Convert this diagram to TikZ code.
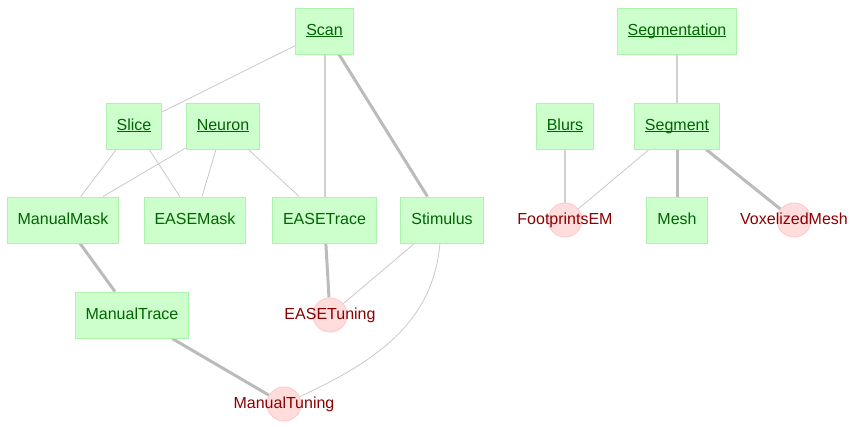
\documentclass[tikz,border=0pt]{standalone}
\usepackage{fontspec}
\setmainfont{Liberation Sans}
\usetikzlibrary{arrows, backgrounds}

\definecolor{manualfill}{HTML}{CCFFCC}
\definecolor{manualline}{HTML}{AAF5AA}
\definecolor{manualtext}{HTML}{006400}
\definecolor{computedfill}{HTML}{FFDDDD}
\definecolor{computedline}{HTML}{FFCCCC}
\definecolor{computedtext}{HTML}{8B0000}
\definecolor{linklight}{HTML}{C8C8C8}
\definecolor{linkmid}{HTML}{D0D0D0}
\definecolor{linkdark}{HTML}{BBBBBB}

\newcommand{\keyname}[1]{\underline{\smash{#1}}}

\begin{document}
\begin{tikzpicture}[x=1pt, y=-1pt,
    manualtbl/.style={draw=manualline, fill=manualfill, text=manualtext,
      line width=1pt, inner xsep=10.5pt, minimum height=46pt,
      text height=11.5pt, text depth=3.5pt,
      font=\fontsize{16}{19}\selectfont},
    computedtbl/.style={circle, draw=computedline, fill=computedfill,
      line width=1pt, minimum size=34pt, inner sep=0pt},
    computedlbl/.style={text=computedtext, text height=11.5pt, text depth=3.5pt,
      font=\fontsize{16}{19}\selectfont},
    thinlink/.style={draw=linklight, line width=0.8pt},
    midlink/.style={draw=linkmid, line width=2pt},
    thicklink/.style={draw=linkdark, line width=3pt}]
    \useasboundingbox (0,0) rectangle (860,426);

    %define the tables
    \node[manualtbl] (scan)         at (324.5,31) {\keyname{Scan}};
    \node[manualtbl] (segmentation) at (677,31)   {\keyname{Segmentation}};
    \node[manualtbl] (slice)        at (134,126)  {\keyname{Slice}};
    \node[manualtbl] (neuron)       at (223,126)  {\keyname{Neuron}};
    \node[manualtbl] (blurs)        at (565,126)  {\keyname{Blurs}};
    \node[manualtbl] (segment)      at (677,126)  {\keyname{Segment}};
    \node[manualtbl] (manualmask)   at (63,220)   {ManualMask};
    \node[manualtbl] (easemask)     at (195,220)  {EASEMask};
    \node[manualtbl] (easetrace)    at (324.5,220) {EASETrace};
    \node[manualtbl] (stimulus)     at (442,220)  {Stimulus};
    \node[manualtbl] (mesh)         at (677,220)  {Mesh};
    \node[manualtbl] (manualtrace)  at (132,315)  {ManualTrace};
    \node[computedtbl, label={[computedlbl]center:FootprintsEM}]  (footprintsem)  at (565,220) {};
    \node[computedtbl, label={[computedlbl]center:VoxelizedMesh}] (voxelizedmesh) at (794,220) {};
    \node[computedtbl, label={[computedlbl]center:EASETuning}]    (easetuning)    at (330,315) {};
    \node[computedtbl, label={[computedlbl]center:ManualTuning}]  (manualtuning)  at (284,404) {};

    %define the links
    \begin{pgfonlayer}{background}
    \path (scan)         edge[thinlink]  (slice)
                         edge[midlink]   (easetrace)
                         edge[thicklink] (stimulus)
          (slice)        edge[thinlink]  (manualmask)
                         edge[thinlink]  (easemask)
          (neuron)       edge[thinlink]  (manualmask)
                         edge[thinlink]  (easemask)
                         edge[thinlink]  (easetrace)
          (manualmask)   edge[thicklink] (manualtrace)
          (manualtrace)  edge[thicklink] (manualtuning)
          (easetrace)    edge[thicklink] (easetuning)
          (stimulus)     edge[thinlink]  (easetuning)
                         edge[thinlink, out=-95, in=25] (manualtuning)
          (segmentation) edge[midlink]   (segment)
          (blurs)        edge[midlink]   (footprintsem)
          (segment)      edge[thinlink]  (footprintsem)
                         edge[thicklink] (mesh)
                         edge[thicklink] (voxelizedmesh);
    \end{pgfonlayer}
\end{tikzpicture}
\end{document}
